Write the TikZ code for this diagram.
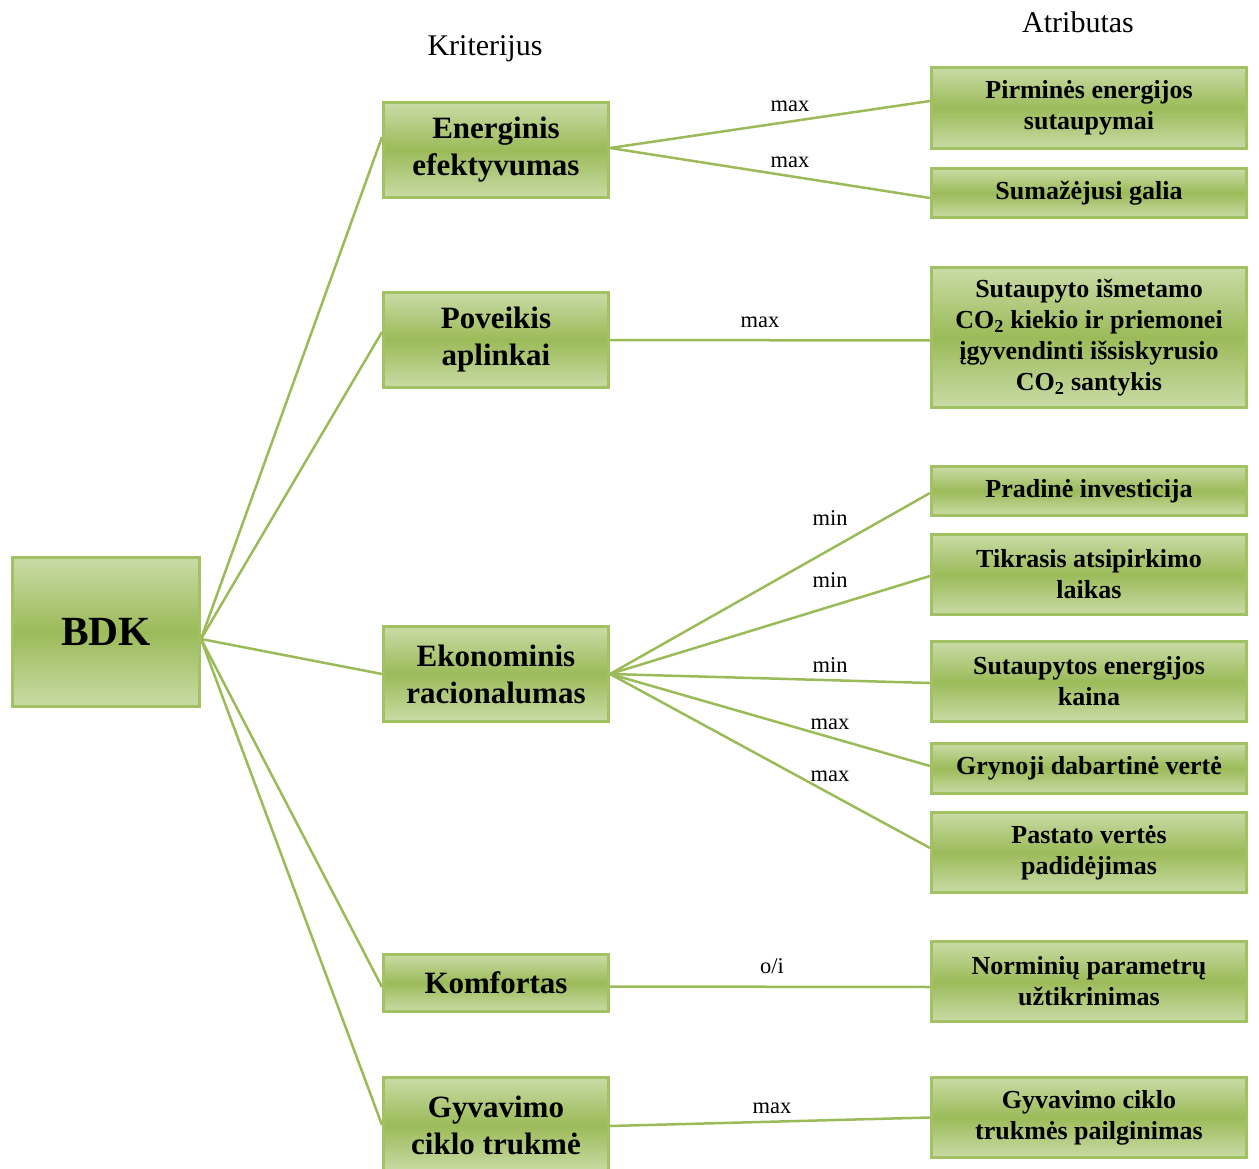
\documentclass[tikz,border=0pt]{standalone}
\usepackage{fontspec}
\setmainfont{Liberation Serif}
\usetikzlibrary{backgrounds}
\definecolor{gdark}{HTML}{9BBB59}
\definecolor{glight}{HTML}{C9DBA6}
\definecolor{gborder}{HTML}{A2C162}
\definecolor{gline}{HTML}{9BBB59}
\tikzset{
  gbox/.style={draw=gborder, line width=3pt, top color=glight, bottom color=glight,
    middle color=gdark, inner sep=0pt, align=center, anchor=north west},
  critbox/.style={gbox, minimum width=225pt, font=\bfseries\fontsize{31}{37}\selectfont},
  attrbox/.style={gbox, minimum width=315pt, font=\bfseries\fontsize{26}{31}\selectfont},
  conn/.style={draw=gline, line width=2.5pt},
  lbl/.style={anchor=base, inner sep=0pt, font=\fontsize{22.5}{26}\selectfont},
  head/.style={inner sep=0pt, font=\fontsize{30}{34}\selectfont}
}
\begin{document}
\begin{tikzpicture}[x=1pt,y=-1pt]
\useasboundingbox (0,0) rectangle (1259,1169);

\node[head] (hk) at (485,49) {Kriterijus};
\node[head] (ha) at (1078,22) {Atributas};

\node[gbox, minimum width=187pt, minimum height=149pt, font=\bfseries\fontsize{41.5}{48}\selectfont] (bdk) at (11,556) {BDK};

\node[critbox, minimum height=95pt] (ee) at (382,101) {Energinis\\efektyvumas};
\node[critbox, minimum height=95pt] (pa) at (382,291) {Poveikis\\aplinkai};
\node[critbox, minimum height=95pt] (er) at (382,625) {Ekonominis\\racionalumas};
\node[critbox, minimum height=57pt] (ko) at (382,953) {Komfortas};
\node[critbox, minimum height=95pt] (gc) at (382,1076) {Gyvavimo\\ciklo trukmė};

\node[attrbox, minimum height=81pt] (a1) at (930,66) {Pirminės energijos\\sutaupymai};
\node[attrbox, minimum height=49pt] (a2) at (930,167) {Sumažėjusi galia};
\node[attrbox, minimum height=140pt] (a3) at (930,266) {Sutaupyto išmetamo\\CO\textsubscript{2} kiekio ir priemonei\\įgyvendinti išsiskyrusio\\CO\textsubscript{2} santykis};
\node[attrbox, minimum height=49pt] (a4) at (930,465) {Pradinė investicija};
\node[attrbox, minimum height=80pt] (a5) at (930,533) {Tikrasis atsipirkimo\\laikas};
\node[attrbox, minimum height=80pt] (a6) at (930,640) {Sutaupytos energijos\\kaina};
\node[attrbox, minimum height=50pt] (a7) at (930,742) {Grynoji dabartinė vertė};
\node[attrbox, minimum height=80pt] (a8) at (930,811) {Pastato vertės\\padidėjimas};
\node[attrbox, minimum height=80pt] (a9) at (930,940) {Norminių parametrų\\užtikrinimas};
\node[attrbox, minimum height=80pt] (a10) at (930,1076) {Gyvavimo ciklo\\trukmės pailginimas};

\begin{scope}[on background layer]
\draw[conn] ([yshift=-7pt]bdk.east) -- ([yshift=13pt]ee.west);
\draw[conn] ([yshift=-7pt]bdk.east) -- ([yshift=8pt]pa.west);
\draw[conn] ([yshift=-7pt]bdk.east) -- (er.west);
\draw[conn] ([yshift=-7pt]bdk.east) -- ([yshift=-4pt]ko.west);
\draw[conn] ([yshift=-7pt]bdk.east) -- (gc.west);

\draw[conn] ([yshift=2pt]ee.east) -- ([yshift=7pt]a1.west);
\draw[conn] ([yshift=2pt]ee.east) -- ([yshift=-5pt]a2.west);
\draw[conn] (pa.east) -- ([yshift=-3pt]a3.west);
\draw[conn] (er.east) -- ([yshift=-2pt]a4.west);
\draw[conn] (er.east) -- ([yshift=-1.5pt]a5.west);
\draw[conn] (er.east) -- ([yshift=-1.5pt]a6.west);
\draw[conn] (er.east) -- ([yshift=2.5pt]a7.west);
\draw[conn] (er.east) -- ([yshift=4.5pt]a8.west);
\draw[conn] ([yshift=-3.5pt]ko.east) -- ([yshift=-5.5pt]a9.west);
\draw[conn] ([yshift=-1pt]gc.east) -- (a10.west);
\end{scope}

\node[lbl] (l1) at (790,112) {max};
\node[lbl] (l2) at (790,168) {max};
\node[lbl] (l3) at (760,327) {max};
\node[lbl] (l4) at (830,525) {min};
\node[lbl] (l5) at (830,587) {min};
\node[lbl] (l6) at (830,672) {min};
\node[lbl] (l7) at (830,729) {max};
\node[lbl] (l8) at (830,781) {max};
\node[lbl] (l9) at (772,973) {o/i};
\node[lbl] (l10) at (772,1113) {max};
\end{tikzpicture}
\end{document}
